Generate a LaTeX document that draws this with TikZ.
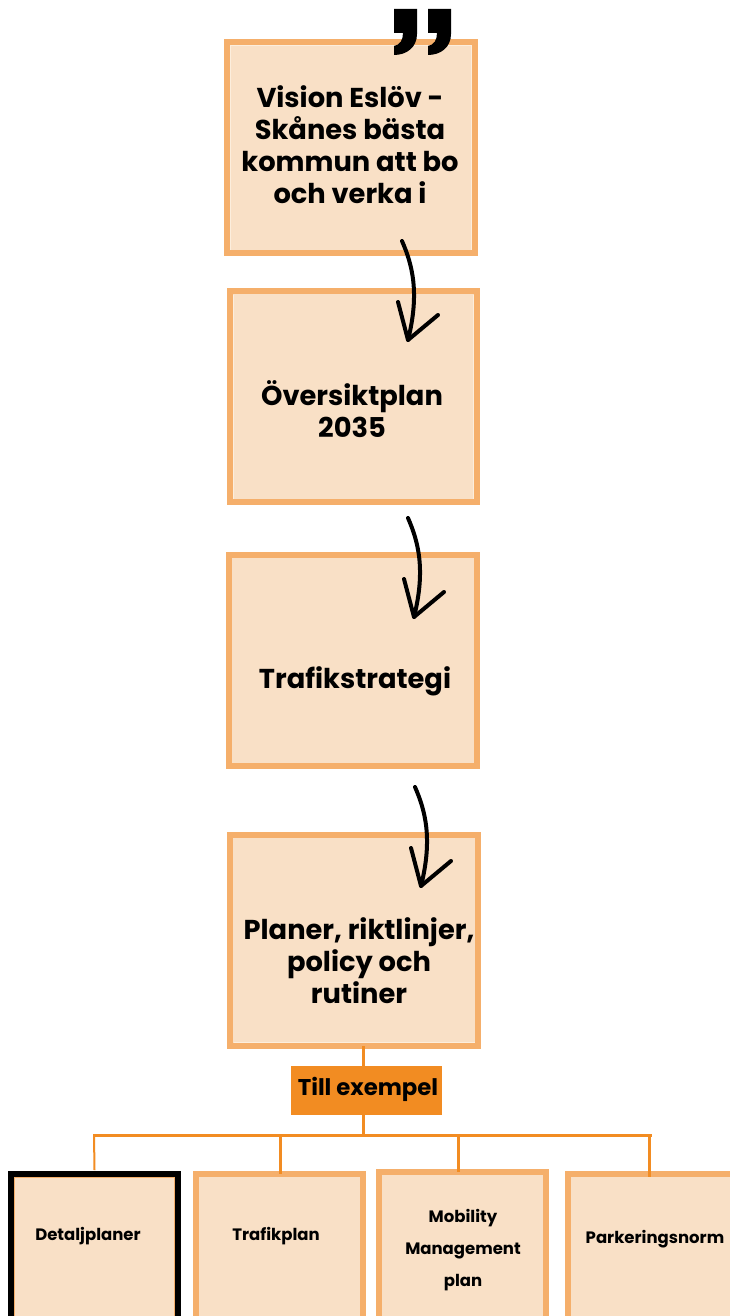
\documentclass[tikz,border=0pt]{standalone}
\usepackage{fontspec}
\setmainfont{Poppins}
\definecolor{boxfill}{HTML}{F9E0C6}
\definecolor{boxedge}{HTML}{F5AF6B}
\definecolor{boxtrim}{HTML}{FCEEDD}
\definecolor{treeline}{HTML}{F28C22}
\tikzset{
  x=1pt,y=-1pt,
  bigbox/.style={draw=boxedge,fill=boxfill,line width=6pt,inner sep=0pt,outer sep=0pt,anchor=north west,minimum width=248pt,minimum height=211pt},
  smallbox/.style={draw=boxedge,fill=boxfill,line width=6pt,inner sep=0pt,outer sep=0pt,anchor=north west,minimum width=167pt,minimum height=200pt},
  blackbox/.style={smallbox,draw=black},
  bigtext/.style={font=\fontsize{27.3}{32}\selectfont\bfseries,align=center,text=black,inner sep=0pt},
  smalltext/.style={font=\fontsize{16.5}{32}\selectfont\bfseries,align=center,text=black,inner sep=0pt},
  tree/.style={draw=treeline,line width=3pt},
  swoosh/.style={draw=black,line width=4pt,line cap=round,line join=round},
  trim/.style={draw=boxtrim,line width=1pt},
}
\begin{document}
\begin{tikzpicture}
\useasboundingbox (0,0) rectangle (730,1316);
\clip (0,0) rectangle (730,1316);
% boxes
\node[bigbox] (vision) at (227,42) {};
\node[bigbox,minimum width=247pt] (oversikt) at (230,291) {};
\node[bigbox] (strategi) at (229,555) {};
\node[bigbox] (planer) at (230,835) {};
\node[blackbox] (detalj) at (11,1174) {};
\node[smallbox] (trafik) at (196,1174) {};
\node[smallbox] (mobility) at (379,1172) {};
\node[smallbox] (parkering) at (568,1174) {};
\node[fill=treeline,inner sep=0pt,outer sep=0pt,minimum width=151pt,minimum height=49pt,anchor=north west] (till) at (291,1066) {};
% inner trim lines
\draw[trim] ([xshift=3.5pt,yshift=3pt]vision.south west) -- ([xshift=3.5pt,yshift=-3.5pt]vision.north west) -- ([xshift=-3.5pt,yshift=-3.5pt]vision.north east) -- ([xshift=-3.5pt,yshift=3pt]vision.south east);
\draw[trim] ([xshift=3.5pt,yshift=3pt]oversikt.south west) -- ([xshift=3.5pt,yshift=-3.5pt]oversikt.north west);
\draw[trim] ([xshift=-3.5pt,yshift=3pt]oversikt.south east) -- ([xshift=-3.5pt,yshift=-3.5pt]oversikt.north east);
\draw[trim] ([xshift=3.5pt,yshift=3.5pt]planer.south west) -- ([xshift=-3.5pt,yshift=3.5pt]planer.south east);
\draw[draw=boxedge,line width=1.5pt] (detalj.north west) ++(3.5,3.5) rectangle ([xshift=-3.5pt,yshift=3.5pt]detalj.south east);
% box texts
\node[bigtext] (visiontext) at (350,145) {Vision Eslöv -\\Skånes bästa\\kommun att bo\\och verka i};
\node[bigtext] (oversikttext) at (352,409) {Översiktplan\\2035};
\node[bigtext] (strategitext) at (355,681) {Trafikstrategi};
\node[bigtext] (planertext) at (359,961) {Planer, riktlinjer,\\policy och\\rutiner};
\node[smalltext,font=\fontsize{22.8}{24}\selectfont\bfseries] (tilltext) at (368,1089) {Till exempel};
\node[smalltext] (detaljtext) at (88,1236) {Detaljplaner};
\node[smalltext] (trafiktext) at (276,1236) {Trafikplan};
\node[smalltext] (mobilitytext) at (463,1250) {Mobility\\Management\\plan};
\node[smalltext] (parktext) at (655,1239) {Parkeringsnorm};
% tree
\coordinate (hl) at (93,1135);
\coordinate (hr) at (652,1135);
\coordinate (hm) at (363,1135);
\draw[tree] (planer.south -| hm) -- (till.north -| hm);
\draw[tree] (till.south -| hm) -- (hm);
\draw[tree] (hl) -- (hr);
\coordinate (d1) at (94.5,1170);
\draw[draw=treeline,line width=2pt] (94,1135) -- (d1);
\coordinate (d2) at (280.5,1135);
\draw[tree] (d2) -- (d2 |- trafik.north);
\coordinate (d3) at (458.5,1135);
\draw[tree] (d3) -- (458.5,1172);
\coordinate (d4) at (649.5,1135);
\draw[tree] (d4) -- (649.5,1177);
% curved arrows
\foreach \n/\dx/\dy in {a/0/0,b/6/277,c/13/546}{
  \coordinate (\n s) at (402+\dx,241+\dy);
  \coordinate (\n e) at (408+\dx,340+\dy);
  \draw[swoosh] (\n s) .. controls (412+\dx,264+\dy) and (420+\dx,292+\dy) .. (\n e);
  \draw[swoosh] (398+\dx,302+\dy) -- (\n e) -- (438+\dx,315+\dy);
}
% quotation mark
\foreach \qx in {394,428}{
  \fill[black] (\qx,9) -- (\qx+23,9) -- (\qx+23,34) .. controls (\qx+23,47) and (\qx+13,55) .. (\qx,55)
    -- (\qx,46) .. controls (\qx+6,45) and (\qx+9,40) .. (\qx+9,33) -- (\qx,33) -- cycle;
}
\end{tikzpicture}
\end{document}
